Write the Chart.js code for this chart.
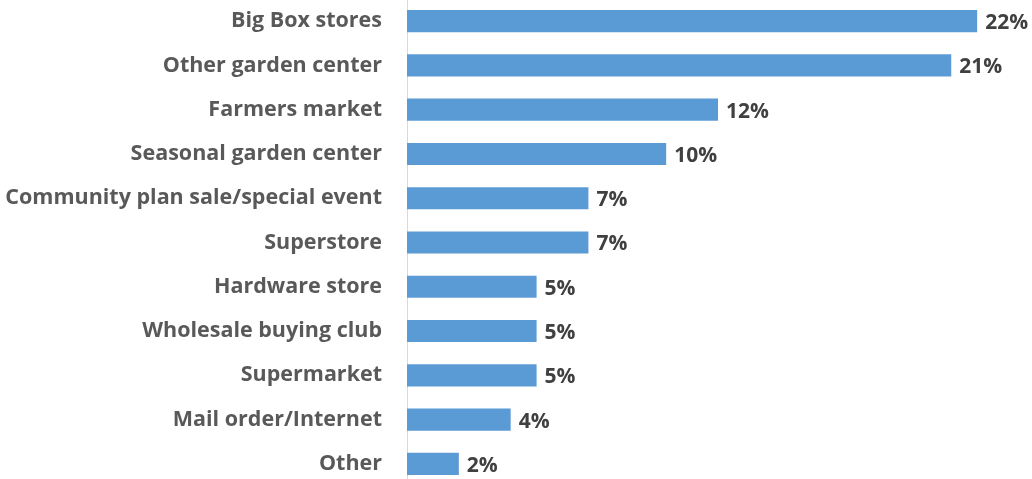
<!DOCTYPE html>
<html>
<head>
<meta charset="utf-8">
<script src="https://cdn.jsdelivr.net/npm/chart.js@4.4.1/dist/chart.umd.min.js"></script>
<style>
  html, body { margin: 0; padding: 0; background: #fff; overflow: hidden; }
  .chart { position: absolute; left: 0; top: -1px; width: 1032px; height: 487px; }
</style>
</head>
<body>
<div class="chart"><canvas id="myChart"></canvas></div>
<script>
const labels = [
  "Big Box stores",
  "Other garden center",
  "Farmers market",
  "Seasonal garden center",
  "Community plan sale/special event",
  "Superstore",
  "Hardware store",
  "Wholesale buying club",
  "Supermarket",
  "Mail order/Internet",
  "Other",
];
const shares = [22, 21, 12, 10, 7, 7, 5, 5, 5, 4, 2];

const FONT = "'Open Sans', sans-serif";

// write the percentage just past the end of each bar
const valueLabels = {
  id: "valueLabels",
  afterDatasetsDraw(chart) {
    const { ctx } = chart;
    const meta = chart.getDatasetMeta(0);
    ctx.save();
    ctx.font = "bold 21px " + FONT;
    ctx.fillStyle = "#404040";
    ctx.textAlign = "left";
    ctx.textBaseline = "middle";
    meta.data.forEach((bar, i) => {
      ctx.fillText(shares[i] + "%", bar.x + 8, bar.y + 2);
    });
    ctx.restore();
  },
};

new Chart(document.getElementById("myChart"), {
  type: "bar",
  data: {
    labels,
    datasets: [
      {
        data: shares,
        backgroundColor: "#5b9bd5",
        borderWidth: 0,
        categoryPercentage: 1,
        barPercentage: 0.5,
      },
    ],
  },
  options: {
    indexAxis: "y",
    responsive: true,
    maintainAspectRatio: false,
    animation: false,
    layout: { padding: { left: 0, right: 3, top: 0, bottom: 0 } },
    plugins: {
      legend: { display: false },
      tooltip: { enabled: false },
    },
    scales: {
      x: {
        display: false,
        min: 0,
        max: 24,
      },
      y: {
        afterFit(scale) {
          scale.width = 407;
          scale.paddingTop = 0;
          scale.paddingBottom = 0;
        },
        grid: { display: false, drawTicks: false },
        border: { display: true, color: "#d9d9d9", width: 1 },
        ticks: {
          color: "#595959",
          padding: 25,
          font: { family: FONT, size: 21.5, weight: "bold" },
        },
      },
    },
  },
  plugins: [valueLabels],
});
</script>
</body>
</html>
